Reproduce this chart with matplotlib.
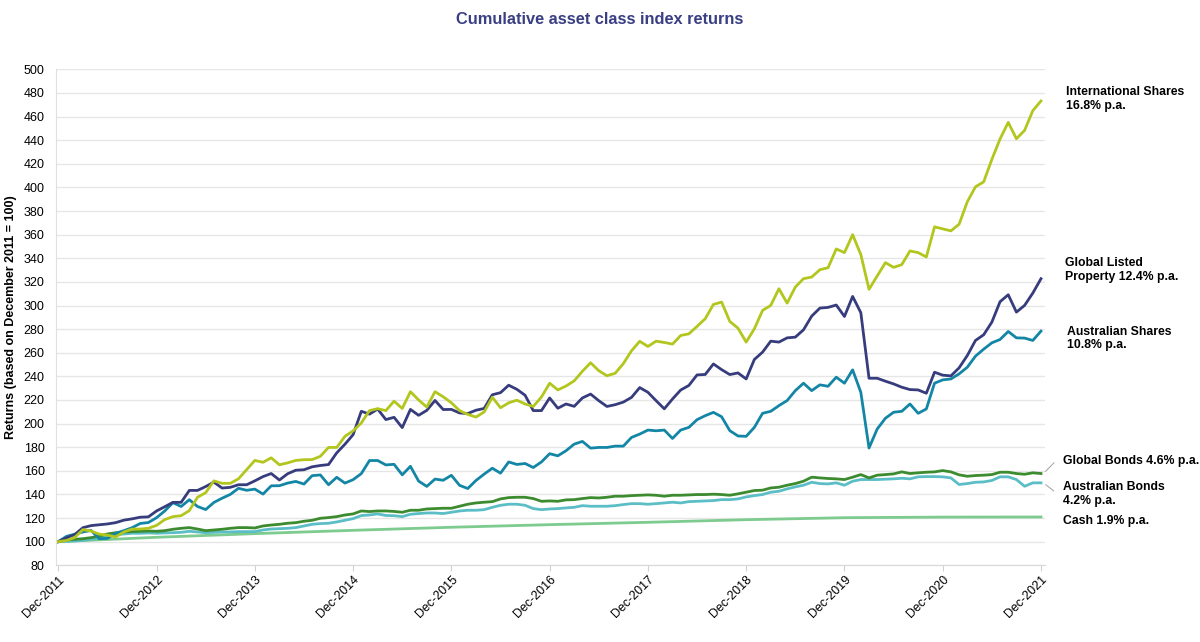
import matplotlib.pyplot as plt
from matplotlib.transforms import blended_transform_factory

plt.rcParams['font.family'] = ['Liberation Sans', 'DejaVu Sans']

# monthly index values, Dec-2011 = 100 (month 0) to Dec-2021 (month 120)
intl_shares = [
    100, 101, 103.5, 110.2, 109, 106.4, 105.5, 104, 108.2, 110.6, 110.7, 111.3,
    113.8, 118.7, 121.2, 122, 126.3, 137.6, 141.5, 151.5, 149.4, 149.4, 153.2, 161,
    168.8, 167.2, 171, 165.1, 166.7, 168.8, 169.4, 169.5, 172.3, 179.8, 179.8, 189.2,
    193.8, 200.5, 211, 212.6, 211, 219, 212.8, 227, 220, 214, 227, 222.7,
    217.6, 211, 207.8, 205.5, 209.8, 222.3, 213.4, 217.6, 219.8, 216.6, 214.5, 222.5,
    234.2, 228.5, 231.8, 236.2, 244.3, 251.5, 244.8, 240.5, 242.6, 250.8, 261.7, 269.7,
    265.3, 269.8, 268.7, 267.3, 274.6, 276, 282.3, 288.8, 300.9, 302.9, 286.5, 280.8,
    269, 280.3, 295.8, 300.1, 314.2, 302, 315.6, 322.7, 324.1, 330.3, 332, 347.9,
    344.8, 360, 343.1, 313.7, 325, 336.3, 332.3, 334.6, 346.2, 344.8, 341.1, 366.6,
    364.9, 363.2, 368.8, 387.8, 400.5, 404.7, 423.7, 441, 455.1, 441.2, 448.3, 465,
    473.2,
]
global_property = [
    100, 103.2, 106, 111.8, 113.6, 114.3, 115, 116.1, 118.2, 119.3, 120.7, 121,
    126, 129.6, 133.3, 133.3, 143.4, 143.4, 146.7, 150.4, 145.4, 146, 148.2, 148.2,
    151.5, 155.1, 157.7, 152.2, 157.5, 160.5, 160.9, 163.4, 164.5, 165.3, 175.2, 182.5,
    190.6, 210.4, 208, 212.3, 203.4, 205.3, 196.6, 212, 207, 211.2, 219.6, 211.9,
    212, 209, 208.5, 211.3, 212.8, 224.4, 226.2, 232.5, 229, 224, 211, 211,
    221.7, 213, 216.6, 214.6, 221.7, 225, 219.4, 214.5, 216, 218.2, 222.2, 230.5,
    226.5, 219.4, 212.5, 220.8, 228.4, 232.3, 241.2, 241.6, 250.5, 245.7, 241.5, 242.9,
    237.8, 254.3, 260.5, 269.8, 269, 272.6, 273.2, 279.4, 291, 297.8, 298.4, 300.4,
    290.7, 307.7, 293.9, 238.4, 238.4, 235.9, 233.6, 230.8, 228.8, 228.5, 225.7, 243.5,
    241, 240.4, 247.2, 257.6, 270.4, 275.2, 285.9, 303.2, 309.1, 294.4, 300.1, 310.5,
    322.7,
]
aus_shares = [
    100, 104.5, 106.3, 108.2, 109.5, 102.5, 102.8, 107, 109.3, 111.8, 115.4, 116.2,
    120.3, 126, 133, 129.8, 135.5, 129.8, 127.2, 133.2, 136.8, 140, 145.2, 143.5,
    144.5, 140.3, 147.3, 147.4, 149.6, 151, 148.8, 155.9, 156.5, 148.2, 154.5, 149.6,
    152.5, 157.6, 168.7, 168.7, 165, 165.5, 156.6, 163.8, 151.3, 146.8, 153, 152,
    156.2, 147.7, 145, 151.8, 157.2, 162.2, 158, 167.5, 165.4, 166.2, 162.8, 167.5,
    174.5, 172.7, 177, 182.6, 184.9, 179.2, 179.8, 179.8, 180.9, 180.9, 188.3, 191.1,
    194.5, 193.9, 194.5, 187.4, 194.5, 196.8, 203.3, 206.7, 209.5, 205.8, 194, 189.5,
    189.2, 196.8, 208.7, 210.4, 215.2, 219.5, 227.9, 234.2, 227.9, 232.8, 231.6, 239.3,
    234.2, 245.5, 226.5, 179.3, 195.4, 204.5, 209.6, 210.4, 216.6, 208.7, 212.4, 234.2,
    237, 237.8, 242.1, 247.7, 257.1, 263, 268.4, 271.2, 278, 272.6, 272.4, 270.4,
    278.3,
]
global_bonds = [
    100, 101.4, 102, 102.5, 103.4, 104.8, 106.5, 107.6, 108.2, 108.5, 108.8, 109,
    108.8, 109.3, 110.5, 111.3, 111.9, 110.7, 109.3, 109.9, 110.5, 111.3, 111.9, 111.9,
    111.6, 113.3, 114.1, 114.7, 115.6, 116.1, 117.3, 118.1, 119.8, 120.4, 121.2, 122.6,
    123.5, 126, 125.5, 126, 126, 125.6, 124.9, 126.6, 126.6, 127.7, 128, 128.3,
    128.3, 130, 131.7, 132.8, 133.4, 133.9, 136.2, 137.3, 137.6, 137.6, 136.5, 134.2,
    134.5, 134.2, 135.4, 135.6, 136.5, 137.3, 137, 137.6, 138.5, 138.5, 139, 139.3,
    139.6, 139.3, 138.5, 139.3, 139.3, 139.6, 139.9, 139.9, 140.2, 139.9, 139.3, 140.5,
    141.9, 143.3, 143.6, 145.5, 146.1, 147.8, 149.2, 151.2, 154.6, 154, 153.5, 153.2,
    152.6, 154.6, 156.8, 154, 156.3, 156.8, 157.4, 159.1, 157.7, 158.3, 158.8, 159.1,
    160.2, 159.1, 156.6, 155.4, 156, 156.3, 156.8, 158.8, 158.8, 157.7, 157.1, 158.3,
    157.7,
]
aus_bonds = [
    100, 100.3, 100.6, 101.1, 102, 103.1, 104.8, 105.7, 106.5, 107.1, 107.1, 107.4,
    107.1, 107.4, 107.6, 107.9, 108.8, 108.2, 107.6, 107.9, 108.2, 108.2, 108.5, 108.5,
    108.5, 109.9, 110.7, 111, 111.3, 111.9, 113.3, 114.7, 115.3, 115.6, 116.7, 118.1,
    119.5, 122.1, 122.6, 123.5, 122.2, 122, 121.2, 123.2, 123.8, 124.3, 124.3, 123.8,
    124.9, 126, 126.6, 126.6, 127.1, 129.1, 130.8, 131.7, 131.7, 130.8, 128, 127.1,
    127.7, 128, 128.6, 129.1, 130.5, 130, 130, 130, 130.5, 131.4, 132.2, 132.2,
    131.7, 132.2, 132.8, 133.4, 132.8, 133.9, 134.2, 134.5, 134.8, 135.6, 135.6, 136.2,
    137.9, 139, 139.9, 141.9, 142.7, 144.7, 146.4, 147.8, 150.3, 149.2, 148.9, 149.8,
    147.8, 151.2, 152.6, 152.6, 152.6, 152.9, 153.2, 153.7, 153.2, 154.9, 155.1, 155.1,
    154.9, 154, 148.4, 149.2, 150.3, 150.6, 151.8, 154.9, 154.9, 152.6, 146.9, 149.8,
    149.8,
]
# cash is a smooth line, read at each December
cash_months = [0, 12, 24, 36, 48, 60, 72, 84, 96, 108, 120]
cash = [100, 103.7, 106.8, 109.6, 112.2, 114.4, 116.4, 118.6, 120.3, 120.8, 120.9]

tick_labels = ['Dec-2011', 'Dec-2012', 'Dec-2013', 'Dec-2014', 'Dec-2015', 'Dec-2016',
               'Dec-2017', 'Dec-2018', 'Dec-2019', 'Dec-2020', 'Dec-2021']

months = list(range(len(intl_shares)))

fig = plt.figure(figsize=(12, 6.42), dpi=100)
ax = fig.add_axes([0.0464, 0.1195, 0.8245, 0.7725])

ax.plot(cash_months, cash, color='#7DCB8E', lw=2)
ax.plot(months, aus_bonds, color='#5BBEC6', lw=2)
ax.plot(months, global_bonds, color='#3C8B2E', lw=2)
ax.plot(months, aus_shares, color='#1386A6', lw=2)
ax.plot(months, global_property, color='#363C7C', lw=2)
ax.plot(months, intl_shares, color='#B2C61E', lw=2)

ax.set_xlim(-0.32, 120.5)
ax.set_ylim(80, 500)
ax.set_yticks(range(80, 501, 20))
ax.set_xticks(cash_months)
ax.set_xticklabels(tick_labels, rotation=45, ha='right', rotation_mode='anchor')
ax.tick_params(axis='x', length=4, color='#D0D0D0', labelsize=9, pad=2)
ax.tick_params(axis='y', length=0, labelsize=9, pad=8)
ax.grid(axis='y', color='#E6E6E6', lw=1)
ax.set_axisbelow(True)
for side in ['top', 'right']:
    ax.spines[side].set_visible(False)
ax.spines['left'].set_color('#E0E0E0')
ax.spines['bottom'].set_color('#D8D8D8')

ax.set_ylabel('Returns (based on December 2011 = 100)', fontsize=9, fontweight='bold', labelpad=5)
fig.suptitle('Cumulative asset class index returns', x=0.5, y=0.982, fontsize=11.8,
             fontweight='bold', color='#3A3F84')

# end labels on the right
tr = blended_transform_factory(ax.transAxes, ax.transData)
labels = ['International Shares\n16.8% p.a.', 'Global Listed\nProperty 12.4% p.a.',
          'Australian Shares\n10.8% p.a.', 'Global Bonds 4.6% p.a.',
          'Australian Bonds\n4.2% p.a.', 'Cash 1.9% p.a.']
label_y = [475, 330, 272, 168.5, 140.5, 117.6]
label_x = [1.021, 1.020, 1.022, 1.018, 1.018, 1.018]
for txt, lx, ly in zip(labels, label_x, label_y):
    ax.text(lx, ly, txt, transform=tr, fontsize=8.8, fontweight='bold', va='center',
            ha='left', linespacing=1.15, clip_on=False)

ax.annotate('', xy=(120.3, global_bonds[-1]), xycoords='data', xytext=(1.011, 168.5),
            textcoords=tr, arrowprops=dict(arrowstyle='-', color='#A0A0A0', lw=0.7))
ax.annotate('', xy=(120.3, aus_bonds[-1]), xycoords='data', xytext=(1.011, 141.5),
            textcoords=tr, arrowprops=dict(arrowstyle='-', color='#A0A0A0', lw=0.7))

fig.savefig('out.png', dpi=100)
